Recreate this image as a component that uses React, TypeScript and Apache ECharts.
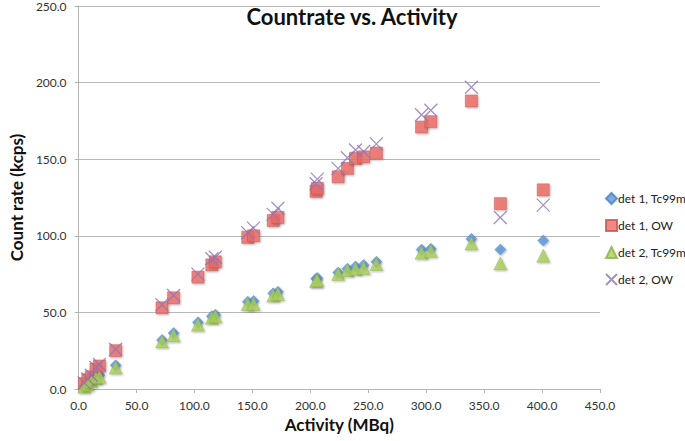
import React, { useEffect, useRef } from "react";
import * as echarts from "echarts";

const activity = [5, 8, 11, 15, 18, 32, 72, 82, 103, 115, 118, 146, 151, 168, 172, 205, 206, 224, 232, 239, 246, 257, 296, 304, 339, 364, 401];
const det1Tc = [2, 3.5, 6, 8, 9, 15.5, 32, 36.5, 43.5, 47.5, 48.5, 57, 57.5, 62.5, 63.5, 72, 72.5, 76, 78.5, 80, 81, 83, 91, 91.5, 98, 91, 97];
const det1OW = [3.5, 6, 8, 13, 15, 25, 53, 59.5, 73, 81, 83, 99, 100, 110, 112, 129, 131, 138.5, 144, 150.5, 151.5, 154, 171, 174.5, 188, 121, 130];
const det2Tc = [1.5, 3, 5, 7, 8, 14, 31, 35, 42, 46.5, 47.5, 55.5, 55.5, 61, 62, 70.5, 71, 75, 77.5, 78.5, 79, 81.5, 89, 90, 95, 82, 87];
const det2OW = [4, 6.5, 9, 14, 16, 26, 55, 61, 75, 85, 86, 102, 105, 114, 118, 134, 137, 144, 151, 156, 155, 160, 179, 182, 197, 112, 120];

const seriesNames = ["det 1, Tc99m", "det 1, OW", "det 2, Tc99m", "det 2, OW"];
const xTicks = { min: 0, max: 450, interval: 50 };
const yTicks = { min: 0, max: 250, interval: 50 };

const FONT = "Lato, 'Open Sans', sans-serif";
const shadow = { shadowBlur: 2, shadowColor: "rgba(0,0,0,0.35)", shadowOffsetX: 1, shadowOffsetY: 1 };

function pairs(ys: number[]) {
  return activity.map((x, i) => [x, ys[i]]);
}

export default function App() {
  const ref = useRef<HTMLDivElement>(null);
  useEffect(() => {
    if (!ref.current) return;
    const chart = echarts.init(ref.current, null, { renderer: "svg" });
    const axisLabel = { color: "#333", fontSize: 12, fontFamily: FONT, formatter: (v: number) => v.toFixed(1), margin: 10 };
    chart.setOption({
      animation: false,
      backgroundColor: "#fff",
      textStyle: { fontFamily: FONT },
      title: {
        text: "Countrate vs. Activity",
        left: 347,
        top: 0,
        textAlign: "center",
        textStyle: { fontFamily: FONT, fontWeight: "bold", fontSize: 22, color: "#111" },
      },
      grid: { left: 62, right: 85, top: 4, bottom: 52, containLabel: false },
      xAxis: {
        type: "value",
        ...xTicks,
        name: "Activity (MBq)",
        nameLocation: "middle",
        nameGap: 24,
        nameTextStyle: { fontFamily: FONT, fontWeight: "bold", fontSize: 17, color: "#111" },
        axisLine: { show: true, lineStyle: { color: "#b5b5b5", width: 1 } },
        axisTick: { show: true, length: 4, lineStyle: { color: "#b5b5b5" } },
        splitLine: { show: false },
        axisLabel,
      },
      yAxis: {
        type: "value",
        ...yTicks,
        name: "Count rate (kcps)",
        nameLocation: "middle",
        nameGap: 42,
        nameTextStyle: { fontFamily: FONT, fontWeight: "bold", fontSize: 17, color: "#111" },
        axisLine: { show: true, lineStyle: { color: "#b5b5b5", width: 1 } },
        axisTick: { show: true, length: 4, lineStyle: { color: "#b5b5b5" } },
        splitLine: { show: true, lineStyle: { color: "#b8b8b8", width: 1 } },
        axisLabel: { ...axisLabel, margin: 12 },
      },
      legend: {
        orient: "vertical",
        left: 600,
        top: 187,
        itemWidth: 11,
        itemHeight: 11,
        itemGap: 14,
        textStyle: { fontFamily: FONT, fontSize: 12, color: "#222", padding: [0, 0, 0, -4] },
        data: seriesNames,
      },
      series: [
        {
          name: seriesNames[0],
          type: "scatter",
          symbol: "diamond",
          symbolSize: 11,
          itemStyle: { color: "#5b95d9", borderColor: "#4a7fc0", borderWidth: 0.5, ...shadow },
          data: pairs(det1Tc),
        },
        {
          name: seriesNames[1],
          type: "scatter",
          symbol: "rect",
          symbolSize: 12,
          itemStyle: { color: "#ec6b66", borderColor: "#c9504b", borderWidth: 0.6, ...shadow },
          data: pairs(det1OW),
        },
        {
          name: seriesNames[2],
          type: "scatter",
          symbol: "triangle",
          symbolSize: 13,
          itemStyle: { color: "#a9cf5c", borderColor: "#8db046", borderWidth: 0.5, ...shadow },
          data: pairs(det2Tc),
        },
        {
          name: seriesNames[3],
          type: "scatter",
          symbol: "path://M0,0L10,10M10,0L0,10",
          symbolSize: 13,
          itemStyle: { color: "rgba(0,0,0,0)", borderColor: "#8f74b5", borderWidth: 1.3 },
          data: pairs(det2OW),
        },
      ],
    });
    return () => chart.dispose();
  }, []);
  return <div ref={ref} style={{ position: "fixed", left: 0, top: 0, width: 685, height: 441 }} />;
}
